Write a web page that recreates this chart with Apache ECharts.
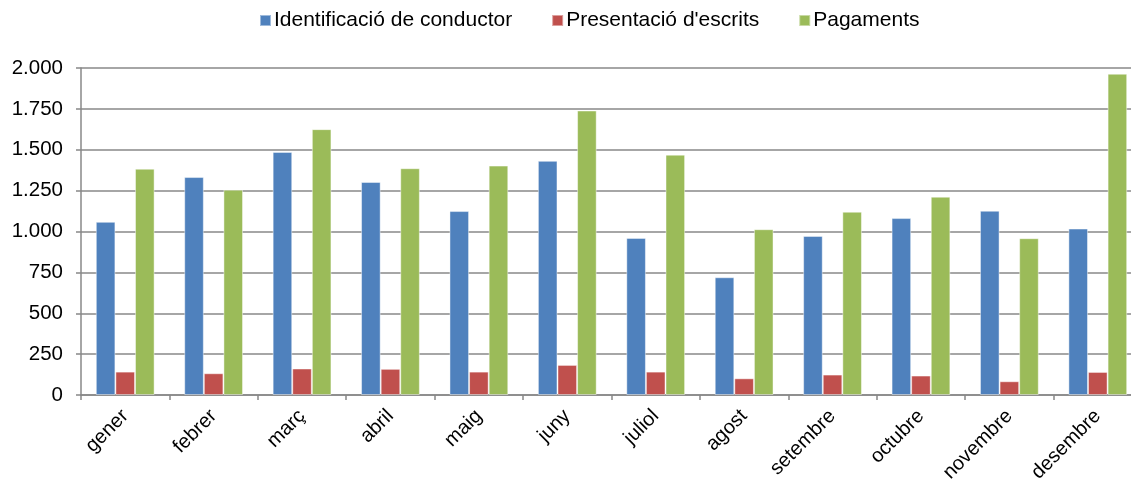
<!DOCTYPE html>
<html>
<head>
<meta charset="utf-8">
<script src="https://cdn.jsdelivr.net/npm/echarts@6/dist/echarts.min.js"></script>
<style>
  html, body { margin: 0; padding: 0; background: #fff; }
  #chart { width: 1131px; height: 488px; }
</style>
</head>
<body>
<div id="chart"></div>
<script>
// Monthly counts per procedure type
const months = ['gener', 'febrer', 'març', 'abril', 'maig', 'juny', 'juliol', 'agost', 'setembre', 'octubre', 'novembre', 'desembre'];
const seriesNames = ['Identificació de conductor', "Presentació d'escrits", 'Pagaments'];
const identificacio = [1059, 1333, 1487, 1303, 1125, 1432, 961, 720, 973, 1082, 1127, 1018];
const presentacio = [143, 133, 162, 160, 143, 184, 143, 102, 125, 119, 84, 141];
const pagaments = [1384, 1256, 1626, 1387, 1403, 1740, 1470, 1014, 1121, 1213, 959, 1965];
const colors = ['#4F81BD', '#C0504D', '#9BBB59'];

const FONT = '"Liberation Sans", Arial, sans-serif';
const GRID_GREY = '#888888';

function thousands(v) {
  return String(v).replace(/\B(?=(\d{3})+(?!\d))/g, '.');
}

const chart = echarts.init(document.getElementById('chart'), null, { renderer: 'canvas' });

const values = [identificacio, presentacio, pagaments];

chart.setOption({
  animation: false,
  color: colors,
  textStyle: { fontFamily: FONT },
  legend: {
    top: 5,
    left: 254,
    itemWidth: 11,
    itemHeight: 11,
    itemGap: 39,
    icon: 'rect',
    textStyle: { fontSize: 21, color: '#000', fontFamily: FONT, padding: [0, 0, 0, -2] },
    data: seriesNames
  },
  grid: {
    left: 81,
    right: -11,
    top: 68,
    bottom: 93,
    containLabel: false,
    outerBoundsMode: 'none'
  },
  xAxis: {
    type: 'category',
    data: months,
    axisLine: { lineStyle: { color: GRID_GREY, width: 1.5 } },
    axisTick: { show: true, length: 5, alignWithLabel: false, lineStyle: { color: GRID_GREY, width: 1.5 } },
    axisLabel: {
      rotate: 45,
      fontSize: 20,
      color: '#000',
      fontFamily: FONT,
      margin: 18,
      interval: 0
    }
  },
  yAxis: {
    type: 'value',
    min: 0,
    max: 2000,
    interval: 250,
    axisLine: { show: true, lineStyle: { color: GRID_GREY, width: 1.5 } },
    axisTick: { show: true, length: 5, lineStyle: { color: GRID_GREY, width: 1.5 } },
    splitLine: { lineStyle: { color: GRID_GREY, width: 1.5 } },
    axisLabel: {
      fontSize: 20.5,
      color: '#000',
      fontFamily: FONT,
      margin: 18,
      formatter: thousands
    }
  },
  series: seriesNames.map((name, i) => ({
    name: name,
    type: 'bar',
    data: values[i],
    barGap: '0%',
    barCategoryGap: '33.5%',
    itemStyle: { color: colors[i], borderColor: 'rgba(255,255,255,0.45)', borderWidth: 1 }
  }))
});
</script>
</body>
</html>
